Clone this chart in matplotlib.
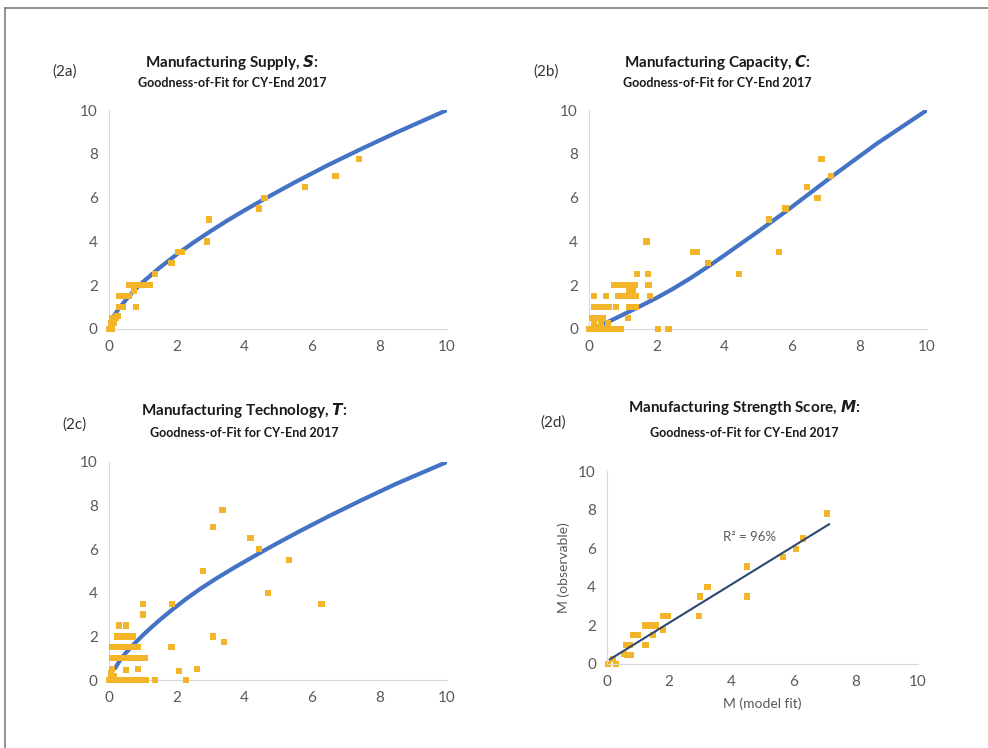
import matplotlib
matplotlib.use('Agg')
import matplotlib.pyplot as plt
from matplotlib.lines import Line2D

plt.rcParams['font.family'] = ['Lato', 'DejaVu Sans']

# (2a) Manufacturing Supply
sX = [7.4, 6.7, 5.8, 4.6, 4.45, 2.95, 2.9, 2.05, 2.15, 1.85, 1.35,
      0.6, 0.7, 0.8, 0.9, 1.0, 1.1, 1.2, 0.75, 0.3, 0.4, 0.5, 0.6,
      0.8, 0.3, 0.4, 0.2, 0.1, 0.15, 0.05, 0.1, 0.0, 0.05, 0.15, 0.25]
sY = [7.75, 7.0, 6.5, 6.0, 5.5, 5.0, 4.0, 3.5, 3.5, 3.0, 2.5,
      2.0, 2.0, 2.0, 2.0, 2.0, 2.0, 2.0, 1.75, 1.5, 1.5, 1.5, 1.5,
      1.0, 1.0, 1.0, 0.5, 0.5, 0.3, 0.25, 0.0, 0.0, 0.1, 0.5, 0.6]
sFitX = [0.15, 0.3, 0.5, 0.75, 1.0, 1.5, 2.0, 2.5, 3.0, 3.5, 4.0, 4.6, 5.5, 6.5, 7.5, 8.5, 10]
sFitY = [0.6, 0.95, 1.33, 1.77, 2.14, 2.8, 3.4, 3.95, 4.46, 4.95, 5.41, 5.94, 6.7, 7.5, 8.25, 8.97, 10.0]

# (2b) Manufacturing Capacity
cX = [6.88, 7.17, 6.45, 6.76, 5.81, 5.33, 5.63, 4.44, 3.53, 3.08, 3.18,
      1.7, 1.41, 1.75,
      0.75, 0.85, 0.95, 1.05, 1.15, 1.25, 1.35, 1.76,
      1.2, 1.3,
      0.15, 0.5, 0.85, 0.95, 1.05, 1.15, 1.25, 1.4, 1.8,
      0.15, 0.3, 0.45, 0.6, 0.8, 1.2, 1.4,
      0.1, 0.25, 0.4, 1.15,
      0.0, 0.1, 0.2, 0.3, 0.4, 0.5, 0.6, 0.7, 0.8, 0.95, 2.05, 2.35,
      0.15, 0.35, 0.55]
cY = [7.75, 7.0, 6.5, 6.0, 5.5, 5.0, 3.5, 2.5, 3.0, 3.5, 3.5,
      4.0, 2.5, 2.5,
      2.0, 2.0, 2.0, 2.0, 2.0, 2.0, 2.0, 2.0,
      1.75, 1.75,
      1.5, 1.5, 1.5, 1.5, 1.5, 1.5, 1.5, 1.5, 1.5,
      1.0, 1.0, 1.0, 1.0, 1.0, 1.0, 1.0,
      0.5, 0.5, 0.5, 0.5,
      0.0, 0.0, 0.0, 0.0, 0.0, 0.0, 0.0, 0.0, 0.0, 0.0, 0.0, 0.0,
      0.2, 0.2, 0.25]
cFitX = [0.3, 0.6, 1.0, 1.5, 2.0, 2.5, 3.0, 3.55, 4.0, 5.0, 5.85, 7.2, 8.5, 10]
cFitY = [0.15, 0.35, 0.65, 1.03, 1.42, 1.85, 2.32, 2.88, 3.36, 4.45, 5.4, 6.98, 8.45, 10.0]

# (2c) Manufacturing Technology
tX = [3.36, 3.08, 4.19, 4.44, 5.33, 2.79, 4.71, 6.29, 3.08, 3.4,
      1.87, 1.85, 2.08, 2.28, 2.61, 1.0, 1.0,
      0.3, 0.5,
      0.25, 0.4, 0.55, 0.7,
      0.1, 0.25, 0.4, 0.55, 0.7, 0.85,
      0.1, 0.25, 0.4, 0.55, 0.7, 0.9, 1.05,
      0.1, 0.5, 0.85,
      0.0, 0.1, 0.2, 0.3, 0.45, 0.6, 0.75, 0.9, 1.1, 1.35,
      0.05, 0.15]
tY = [7.8, 7.0, 6.5, 6.0, 5.5, 5.0, 4.0, 3.5, 2.0, 1.75,
      3.5, 1.5, 0.4, 0.0, 0.5, 3.5, 3.0,
      2.5, 2.5,
      2.0, 2.0, 2.0, 2.0,
      1.5, 1.5, 1.5, 1.5, 1.5, 1.5,
      1.0, 1.0, 1.0, 1.0, 1.0, 1.0, 1.0,
      0.5, 0.45, 0.5,
      0.0, 0.0, 0.0, 0.0, 0.0, 0.0, 0.0, 0.0, 0.0, 0.0,
      0.3, 0.2]
tFitX = [0.18, 0.3, 0.45, 0.72, 1.0, 1.2, 1.5, 1.85, 2.3, 2.7, 3.2, 3.7, 4.5, 5.0, 5.65, 6.5, 7.5, 8.5, 10]
tFitY = [0.54, 0.84, 1.16, 1.62, 2.05, 2.34, 2.75, 3.2, 3.74, 4.18, 4.68, 5.15, 5.86, 6.29, 6.83, 7.51, 8.27, 9.0, 10.0]

# (2d) Manufacturing Strength Score
mX = [7.07, 6.3, 6.07, 5.66, 4.5, 4.5, 3.23, 2.98, 2.96, 1.8, 1.96, 1.8,
      1.21, 1.33, 1.45, 1.57, 1.48, 0.84, 1.0, 0.62, 0.73, 1.24,
      0.54, 0.66, 0.78, 0.03, 0.3, 0.19]
mY = [7.8, 6.5, 5.95, 5.55, 5.05, 3.5, 4.0, 3.5, 2.5, 2.5, 2.5, 1.75,
      2.0, 2.0, 2.0, 2.0, 1.5, 1.5, 1.5, 1.0, 1.0, 1.0,
      0.5, 0.45, 0.45, 0.0, 0.0, 0.25]
mFitX = [0.09, 7.14]
mFitY = [0.24, 7.24]

ticks = [0, 2, 4, 6, 8, 10]
gold = '#F2B52A'
blue = '#4472C4'
navy = '#2C4770'
grey = '#595959'


def styleAxes(ax):
    ax.set_xlim(0, 10)
    ax.set_ylim(0, 10)
    ax.set_xticks(ticks)
    ax.set_yticks(ticks)
    for side in ['top', 'right']:
        ax.spines[side].set_visible(False)
    for side in ['left', 'bottom']:
        ax.spines[side].set_color('#d9d9d9')
        ax.spines[side].set_linewidth(0.8)
    ax.tick_params(length=0, labelsize=11, colors=grey, pad=8)


fig = plt.figure(figsize=(9.88, 7.48), dpi=100)

panels = [
    ([0.1103, 0.5602, 0.3421, 0.2927], sX, sY, sFitX, sFitY),
    ([0.5962, 0.5602, 0.3421, 0.2927], cX, cY, cFitX, cFitY),
    ([0.1103, 0.0909, 0.3421, 0.2915], tX, tY, tFitX, tFitY),
]
for rect, px, py, fx, fy in panels:
    ax = fig.add_axes(rect)
    styleAxes(ax)
    ax.plot(fx, fy, color=blue, linewidth=3, solid_capstyle='round',
            solid_joinstyle='round', zorder=2)
    ax.scatter(px, py, s=20, marker='s', color=gold, edgecolors='none', zorder=3, clip_on=False)

ax = fig.add_axes([0.6144, 0.1123, 0.3147, 0.2580])
styleAxes(ax)
ax.scatter(mX, mY, s=20, marker='s', color=gold, edgecolors='none', zorder=2, clip_on=False)
ax.plot(mFitX, mFitY, color=navy, linewidth=1.5, zorder=3)
ax.text(4.6, 6.6, 'R² = 96%', fontsize=9.5, color=grey, ha='center', va='center')
ax.set_xlabel('M (model fit)', fontsize=10, color=grey, labelpad=6)
ax.set_ylabel('M (observable)', fontsize=10, color=grey, labelpad=6)

titles = [
    (232, 62, 83, 'Manufacturing Supply, ', 'S', 65, 72, '(2a)'),
    (717, 62, 83, 'Manufacturing Capacity, ', 'C', 546, 72, '(2b)'),
    (244, 410, 433, 'Manufacturing Technology, ', 'T', 74, 425, '(2c)'),
    (744, 408, 433, 'Manufacturing Strength Score, ', 'M', 553, 423, '(2d)'),
]
W, H = 988.0, 748.0
for cx, y1, y2, head, sym, lx, ly, tag in titles:
    fig.text(cx / W, 1 - y1 / H, head + '$\\boldsymbol{' + sym + '}$:', fontsize=11,
             fontweight='bold', ha='center', va='center', color='#1a1a1a')
    fig.text(cx / W, 1 - y2 / H, 'Goodness-of-Fit for CY-End 2017', fontsize=9,
             fontweight='bold', ha='center', va='center', color='#1a1a1a')
    fig.text(lx / W, 1 - ly / H, tag, fontsize=11, ha='center', va='center', color='#333333')

fig.add_artist(Line2D([5 / W, 5 / W], [0, 1 - 8 / H], color='#7f7f7f', linewidth=1.2))
fig.add_artist(Line2D([5 / W, 1], [1 - 8 / H, 1 - 8 / H], color='#7f7f7f', linewidth=1.2))

fig.savefig('out.png', dpi=100)
